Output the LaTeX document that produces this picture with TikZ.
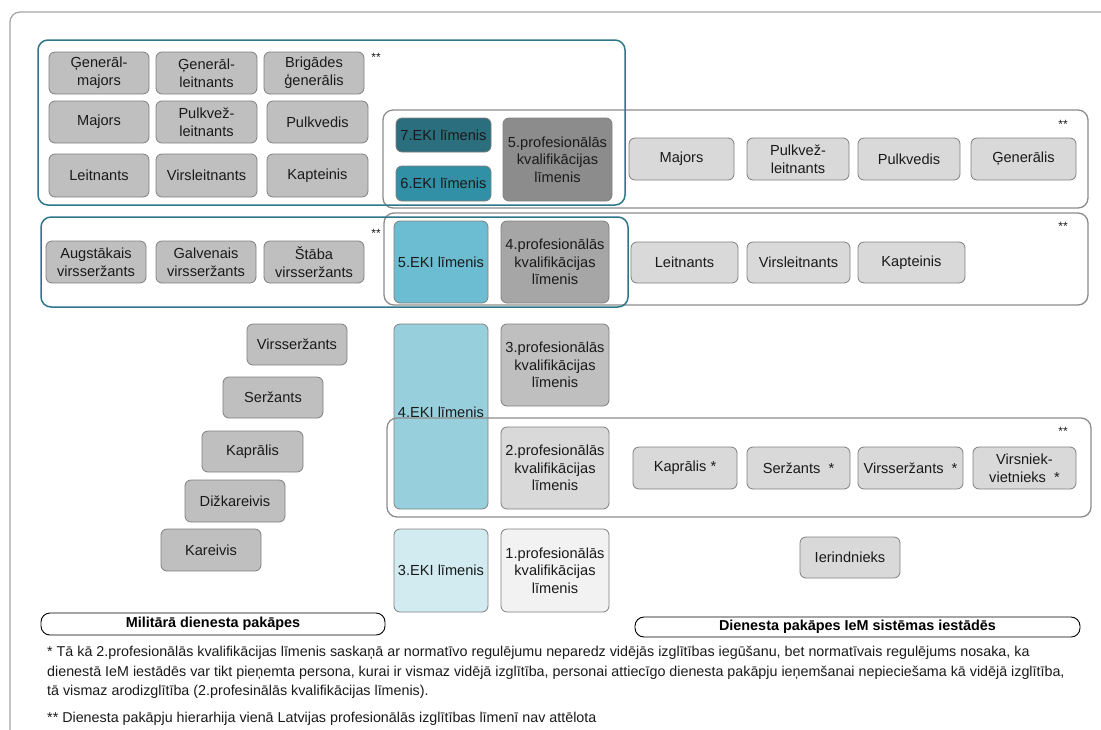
\documentclass[tikz,border=0pt]{standalone}
\usepackage{fontspec}
\setmainfont{Liberation Sans}
\definecolor{tealfr}{HTML}{2E7789}
\definecolor{greyfr}{HTML}{8C8C8C}
\definecolor{outerfr}{HTML}{A6A6A6}
\definecolor{boxline}{HTML}{7F7F7F}
\definecolor{rankA}{HTML}{BFBFBF}
\definecolor{rankB}{HTML}{D9D9D9}
\definecolor{ekiSeven}{HTML}{2B6E7E}
\definecolor{ekiSix}{HTML}{3190A5}
\definecolor{ekiFive}{HTML}{6CBDD1}
\definecolor{ekiFour}{HTML}{98CFDC}
\definecolor{ekiThree}{HTML}{D2EBF0}
\definecolor{pkFive}{HTML}{8C8C8C}
\definecolor{pkFour}{HTML}{A6A6A6}
\definecolor{pkThree}{HTML}{BFBFBF}
\definecolor{pkTwo}{HTML}{D9D9D9}
\definecolor{pkOne}{HTML}{F2F2F2}
\definecolor{txt}{HTML}{1A1A1A}
\newcommand\boxfont{\fontsize{14.6}{17.6}\selectfont}
\newcommand\labfont{\fontsize{14.4}{17}\selectfont\bfseries}
\newcommand\footfont{\fontsize{14.3}{17}\selectfont}
\newcommand\starfont{\fontsize{12}{14}\selectfont}
\begin{document}
\begin{tikzpicture}[x=1pt,y=-1pt,
  box/.style={draw=boxline, line width=0.8pt, rounded corners=6pt, align=center, inner sep=0pt, font=\boxfont, text=txt},
  sz/.style 2 args={minimum width=#1pt, minimum height=#2pt},
  rankL/.style={box, fill=rankA, sz={100}{42}},
  rankR/.style={box, fill=rankB, sz={104}{42}},
  tealbox/.style={draw=tealfr, line width=1.5pt, rounded corners=10pt},
  greybox/.style={draw=greyfr, line width=1.3pt, rounded corners=10pt},
  labbox/.style={draw=black, line width=0.9pt, rounded corners=9pt, font=\labfont, inner sep=0pt},
  foot/.style={anchor=base west, inner sep=0pt, font=\footfont, text=txt},
  stars/.style={inner sep=0pt, font=\starfont, text=txt}]
\clip (0,0) rectangle (1101,729);
\draw[outerfr, line width=1.3pt, rounded corners=10pt] (10,12) rectangle (1160,780);

% left top group
\node[rankL] (gm) at (99,73) {Ģenerāl-\\majors};
\node[rankL, sz={101}{42}] (gl) at (206.5,73) {Ģenerāl-\\leitnants};
\node[rankL] (bg) at (314,73) {Brigādes\\ģenerālis};
\node[rankL] (maj) at (99,122) {Majors};
\node[rankL, sz={101}{42}] (pl) at (206.5,122) {Pulkvež-\\leitnants};
\node[rankL, sz={101}{42}] (pulk) at (317.5,122) {Pulkvedis};
\node[rankL, sz={100}{43}] (leit) at (99,175.5) {Leitnants};
\node[rankL, sz={101}{43}] (vl) at (206.5,175.5) {Virsleitnants};
\node[rankL, sz={101}{43}] (kap) at (317.5,175.5) {Kapteinis};
\node[stars] (st1) at (376,57) {**};

% left second group
\node[rankL] (aug) at (96,262) {Augstākais\\virsseržants};
\node[rankL] (galv) at (206,262) {Galvenais\\virsseržants};
\node[rankL] (stab) at (314,262) {Štāba\\virsseržants};
\node[stars] (st2) at (376,233) {**};

% left stairs
\node[rankL, sz={100}{41}] (vs) at (297,344.5) {Virsseržants};
\node[rankL, sz={100}{41}] (serz) at (273,397.5) {Seržants};
\node[rankL, sz={101}{41}] (kapr) at (252.5,451.5) {Kaprālis};
\node[rankL] (diz) at (235,501) {Dižkareivis};
\node[rankL] (kar) at (211,550) {Kareivis};

% middle columns
\node[box, fill=ekiSeven, sz={95}{34}] (eki7) at (443.5,135) {7.EKI līmenis};
\node[box, fill=ekiSix, sz={95}{35}] (eki6) at (443.5,183.5) {6.EKI līmenis};
\node[box, fill=pkFive, sz={109}{83}] (pk5) at (557.5,159.5) {5.profesionālās\\kvalifikācijas\\līmenis};
\node[box, fill=ekiFive, sz={94}{82}] (eki5) at (441,262) {5.EKI līmenis};
\node[box, fill=pkFour, sz={108}{82}] (pk4) at (555,262) {4.profesionālās\\kvalifikācijas\\līmenis};
\node[box, fill=ekiFour, sz={94}{185}] (eki4) at (441,416.5) {\raisebox{9pt}{4.EKI līmenis}};
\node[box, fill=pkThree, sz={108}{82}] (pk3) at (555,365) {3.profesionālās\\kvalifikācijas\\līmenis};
\node[box, fill=pkTwo, sz={108}{82}] (pk2) at (555,468) {2.profesionālās\\kvalifikācijas\\līmenis};
\node[box, fill=ekiThree, sz={94}{83}] (eki3) at (441,570.5) {3.EKI līmenis};
\node[box, fill=pkOne, sz={108}{83}] (pk1) at (555,570.5) {1.profesionālās\\kvalifikācijas\\līmenis};

% right groups
\node[rankR, sz={105}{42}] (rmaj) at (681.5,159) {Majors};
\node[rankR, sz={102}{42}] (rpl) at (798,159) {Pulkvež-\\leitnants};
\node[rankR, sz={102}{42}] (rpulk) at (909,159) {Pulkvedis};
\node[rankR, sz={105}{42}] (rgen) at (1023.5,159) {Ģenerālis};
\node[stars] (st3) at (1063,124) {**};
\node[rankR, sz={107}{41}] (rleit) at (684.5,262.5) {Leitnants};
\node[rankR, sz={103}{41}] (rvl) at (798.5,262.5) {Virsleitnants};
\node[rankR, sz={107}{41}] (rkap) at (911.5,262.5) {Kapteinis};
\node[stars] (st4) at (1063,226) {**};
\node[rankR, sz={104}{42}] (rkapr) at (685,468) {Kaprālis *};
\node[rankR, sz={103}{42}] (rserz) at (798.5,468) {Seržants~~*};
\node[rankR, sz={105}{42}] (rvs) at (910.5,468) {Virsseržants~~*};
\node[rankR, sz={103}{42}] (rvn) at (1024.5,468) {Virsniek-\\vietnieks~~*};
\node[stars] (st5) at (1063,431) {**};
\node[rankR, sz={100}{41}] (ier) at (850,557.5) {Ierindnieks};

% frames
\draw[greybox] (383,110) rectangle (1088,208);
\draw[greybox] (384,213) rectangle (1088,305);
\draw[greybox] (387,418) rectangle (1091,517);
\draw[tealbox] (38,40) rectangle (625,205);
\draw[tealbox] (41,217) rectangle (628,307);

% labels
\node[labbox, sz={344}{22}] (mil) at (213,624) {Militārā dienesta pakāpes};
\node[labbox, sz={445}{20}] (dien) at (857.5,627) {Dienesta pakāpes IeM sistēmas iestādēs};

% footnotes
\node[foot] (fa) at (47,656) {* Tā kā 2.profesionālās kvalifikācijas līmenis saskaņā ar normatīvo regulējumu neparedz vidējās izglītības iegūšanu, bet normatīvais regulējums nosaka, ka};
\node[foot] (fb) at (47,676) {dienestā IeM iestādēs var tikt pieņemta persona, kurai ir vismaz vidējā izglītība, personai attiecīgo dienesta pakāpju ieņemšanai nepieciešama kā vidējā izglītība,};
\node[foot] (fc) at (47,695) {tā vismaz arodizglītība (2.profesinālās kvalifikācijas līmenis).};
\node[foot] (fd) at (47,722) {** Dienesta pakāpju hierarhija vienā Latvijas profesionālās izglītības līmenī nav attēlota};
\end{tikzpicture}
\end{document}
